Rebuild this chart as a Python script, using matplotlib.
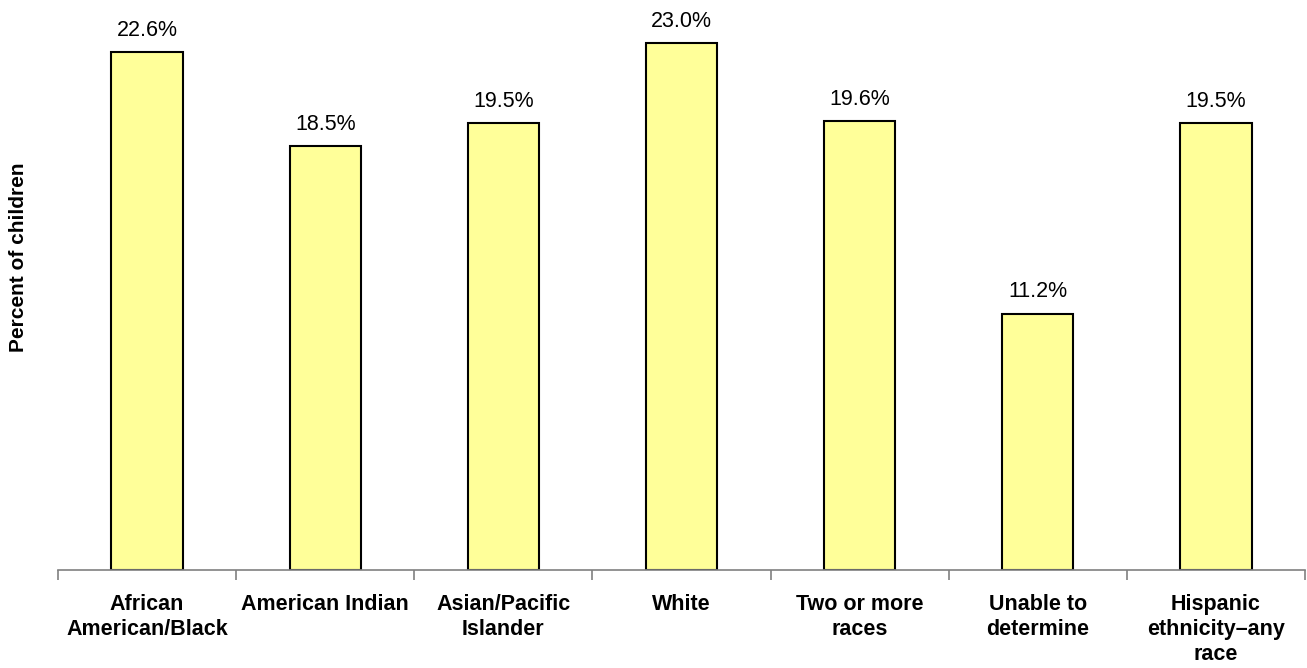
import matplotlib
matplotlib.use("Agg")
import matplotlib.pyplot as plt
import numpy as np

categories = ["African\nAmerican/Black", "American Indian", "Asian/Pacific\nIslander", "White",
              "Two or more\nraces", "Unable to\ndetermine", "Hispanic\nethnicity\u2013any\nrace"]
values = [22.6, 18.5, 19.5, 23.0, 19.6, 11.2, 19.5]
value_labels = ["22.6%", "18.5%", "19.5%", "23.0%", "19.6%", "11.2%", "19.5%"]

plt.rcParams['font.family'] = ['Liberation Sans', 'DejaVu Sans']

W, H = 1307, 668
fig = plt.figure(figsize=(W / 100, H / 100), dpi=100)
ax = fig.add_axes([58 / W, 98 / H, (1305 - 58) / W, 572.5 / H])

x = np.arange(len(categories))
ax.bar(x, values, width=0.4, color="#FFFF99", edgecolor="black", linewidth=1.5, zorder=2)
for xi, v, lab in zip(x, values, value_labels):
    ax.text(xi, v + 0.5, lab, ha="center", va="bottom", fontsize=15.5)

ax.set_xlim(-0.5, len(categories) - 0.5)
ax.set_ylim(0, 25)
for s in ["top", "right", "left"]:
    ax.spines[s].set_visible(False)
ax.spines["bottom"].set_color("#808080")
ax.spines["bottom"].set_linewidth(1.2)
ax.set_yticks([])
ax.set_xticks(np.arange(len(categories) + 1) - 0.5, minor=False)
ax.set_xticklabels([])
ax.tick_params(axis="x", which="major", length=7, width=1.2, color="#808080", direction="out")
ax.set_xticks(x, minor=True)
ax.set_xticklabels(categories, minor=True, fontsize=15.5, fontweight="bold", linespacing=1.25)
ax.tick_params(axis="x", which="minor", length=0, pad=17)
for t in ax.get_xticklabels(minor=True):
    t.set_ha("center")
    t.set_va("top")

fig.text(19 / W, 1 - 257 / H, "Percent of children", rotation=90, ha="center", va="center",
         fontsize=15, fontweight="bold")

fig.savefig("out.png", dpi=100)
